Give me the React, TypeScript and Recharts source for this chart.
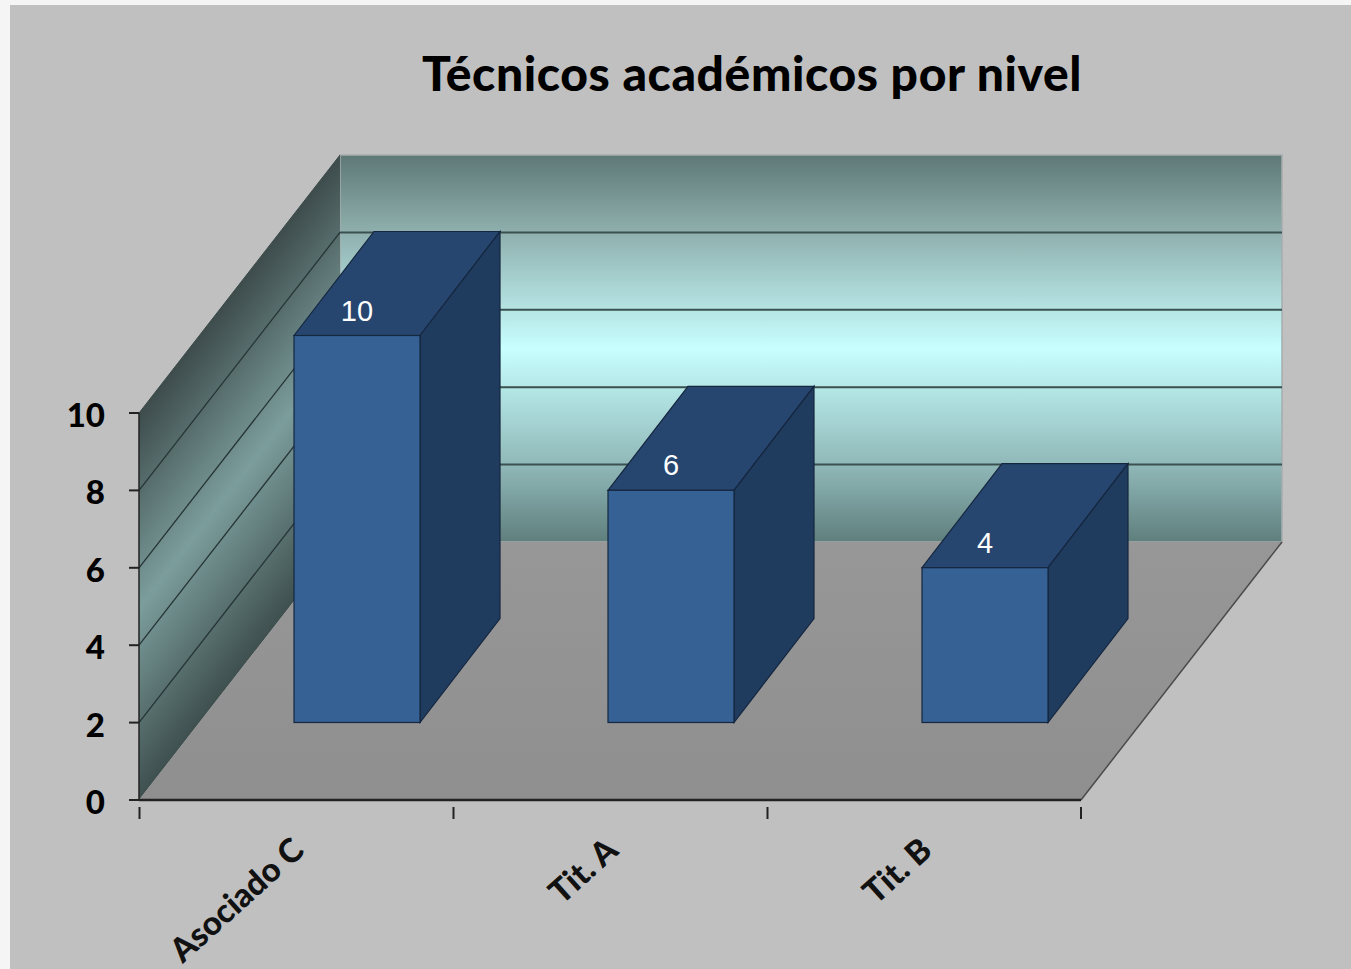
import { Bar, BarChart, LabelList, XAxis, YAxis, usePlotArea } from "recharts";

const niveles = ["Asociado C", "Tit. A", "Tit. B"];
const tecnicos = [10, 6, 4];
const yTicks = [0, 2, 4, 6, 8, 10];
const chartData = niveles.map((nivel, i) => ({ nivel, tecnicos: tecnicos[i] }));

const YMAX = 10;
// oblique projection of the depth axis
const WALL_DX = 201;
const WALL_DY = -258;
const BAR_SHIFT_X = 61;
const BAR_SHIFT_Y = -77.5;
const BAR_DX = 80;
const BAR_DY = -104;

const FONT = "Lato, 'Open Sans', sans-serif";

const pts = (list: number[][]) => list.map((p) => p.join(",")).join(" ");

// Walls and floor sit behind the bars
function Walls() {
  const plot = usePlotArea();
  if (!plot) return null;
  const { x, y, width, height } = plot;
  const right = x + width;
  const bottom = y + height;
  const yOf = (v: number) => bottom - (v / YMAX) * height;

  return (
    <g>
      <defs>
        <linearGradient id="backWall" x1="0" y1="0" x2="0" y2="1">
          <stop offset="0%" stopColor="#5e7876" />
          <stop offset="20%" stopColor="#8fb0ae" />
          <stop offset="50%" stopColor="#c8ffff" />
          <stop offset="80%" stopColor="#90b8b8" />
          <stop offset="100%" stopColor="#5f7f7d" />
        </linearGradient>
        <linearGradient
          id="sideWall"
          gradientUnits="userSpaceOnUse"
          x1={x + 101}
          y1={y - 129}
          x2={x + 289}
          y2={y + 17}
        >
          <stop offset="0%" stopColor="#3e4c4c" />
          <stop offset="50%" stopColor="#7b9d9c" />
          <stop offset="100%" stopColor="#3e4f4e" />
        </linearGradient>
        <linearGradient id="floorFill" x1="0" y1="0" x2="0" y2="1">
          <stop offset="0%" stopColor="#979797" />
          <stop offset="100%" stopColor="#8f8f8f" />
        </linearGradient>
      </defs>

      <rect
        x={x + WALL_DX}
        y={y + WALL_DY}
        width={width}
        height={height}
        fill="url(#backWall)"
        stroke="#a6acac"
        strokeWidth={1.5}
      />
      <polygon
        points={pts([
          [x, y],
          [x + WALL_DX, y + WALL_DY],
          [x + WALL_DX, bottom + WALL_DY],
          [x, bottom],
        ])}
        fill="url(#sideWall)"
      />
      <polygon
        points={pts([
          [x, bottom],
          [x + WALL_DX, bottom + WALL_DY],
          [right + WALL_DX, bottom + WALL_DY],
          [right, bottom],
        ])}
        fill="url(#floorFill)"
      />
      <line
        x1={right}
        y1={bottom}
        x2={right + WALL_DX}
        y2={bottom + WALL_DY}
        stroke="#4a4a4a"
        strokeWidth={1.5}
      />
      <line
        x1={x}
        y1={y}
        x2={x + WALL_DX}
        y2={y + WALL_DY}
        stroke="#3c4a4a"
        strokeWidth={1}
      />
      {yTicks
        .filter((v) => v > 0 && v < YMAX)
        .map((v) => (
          <g key={v}>
            <line
              x1={x}
              y1={yOf(v)}
              x2={x + WALL_DX}
              y2={yOf(v) + WALL_DY}
              stroke="#263434"
              strokeWidth={1.3}
            />
            <line
              x1={x + WALL_DX}
              y1={yOf(v) + WALL_DY}
              x2={right + WALL_DX}
              y2={yOf(v) + WALL_DY}
              stroke="#3a5150"
              strokeWidth={2}
            />
          </g>
        ))}
      <text
        x={752}
        y={91}
        textAnchor="middle"
        fontFamily={FONT}
        fontWeight={900}
        fontSize={48}
        letterSpacing={0.6}
        fill="#000"
      >
        Técnicos académicos por nivel
      </text>
    </g>
  );
}

function Bar3D(props: any) {
  const { x, y, width, height } = props;
  const fx = x + BAR_SHIFT_X;
  const fy = y + BAR_SHIFT_Y;
  const edge = "#15263f";
  return (
    <g>
      <polygon
        points={pts([
          [fx, fy],
          [fx + BAR_DX, fy + BAR_DY],
          [fx + width + BAR_DX, fy + BAR_DY],
          [fx + width, fy],
        ])}
        fill="#27466f"
        stroke={edge}
        strokeWidth={1.2}
      />
      <polygon
        points={pts([
          [fx + width, fy],
          [fx + width + BAR_DX, fy + BAR_DY],
          [fx + width + BAR_DX, fy + height + BAR_DY],
          [fx + width, fy + height],
        ])}
        fill="#1f3c5f"
        stroke={edge}
        strokeWidth={1.2}
      />
      <rect x={fx} y={fy} width={width} height={height} fill="#356194" stroke={edge} strokeWidth={1.2} />
    </g>
  );
}

function BarValue(props: any) {
  const { x, y, width, value } = props;
  return (
    <text
      x={x + width / 2 + BAR_SHIFT_X}
      y={y + BAR_SHIFT_Y - 15}
      textAnchor="middle"
      fontFamily="'Liberation Sans', Arial, sans-serif"
      fontSize={29}
      fill="#fff"
    >
      {value}
    </text>
  );
}

function CategoryTick(props: any) {
  const { x, y, payload, index } = props;
  const half = 157;
  return (
    <g>
      <line x1={x - half + 0.5} y1={y - 1} x2={x - half + 0.5} y2={y + 11} stroke="#222" strokeWidth={2} />
      {index === niveles.length - 1 && (
        <line x1={x + half} y1={y - 1} x2={x + half} y2={y + 11} stroke="#222" strokeWidth={2} />
      )}
      <text
        transform={`translate(${x + 10} ${y + 45}) rotate(-42)`}
        textAnchor="end"
        fontFamily={FONT}
        fontWeight={900}
        fontSize={33}
        fill="#111"
      >
        {payload.value}
      </text>
    </g>
  );
}

function ValueTick(props: any) {
  const { x, y, payload } = props;
  return (
    <text
      x={x}
      y={y + 14}
      textAnchor="end"
      fontFamily={FONT}
      fontWeight={900}
      fontSize={33}
      fill="#000"
    >
      {payload.value}
    </text>
  );
}

export default function App() {
  return (
    <div
      style={{
        position: "absolute",
        left: 0,
        top: 0,
        width: 1351,
        height: 969,
        overflow: "hidden",
        background: "#f5f5f5",
      }}
    >
      <div
        style={{
          position: "absolute",
          left: 10,
          top: 5,
          width: 1341,
          height: 964,
          background: "#c0c0c0",
        }}
      />
      <div style={{ position: "absolute", left: 0, top: 0 }}>
        <BarChart
          width={1351}
          height={969}
          data={chartData}
          margin={{ top: 413, right: 270, bottom: 69, left: 79 }}
        >
          <Walls />
          <XAxis
            dataKey="nivel"
            height={100}
            interval={0}
            tickLine={false}
            axisLine={{ stroke: "#222", strokeWidth: 2.5 }}
            tick={<CategoryTick />}
          />
          <YAxis
            width={60}
            domain={[0, YMAX]}
            ticks={yTicks}
            tickSize={10}
            tickMargin={24}
            axisLine={{ stroke: "#222", strokeWidth: 1.5 }}
            tickLine={{ stroke: "#222", strokeWidth: 2 }}
            tick={<ValueTick />}
          />
          <Bar dataKey="tecnicos" barSize={126} shape={<Bar3D />} isAnimationActive={false}>
            <LabelList dataKey="tecnicos" content={<BarValue />} />
          </Bar>
        </BarChart>
      </div>
    </div>
  );
}
